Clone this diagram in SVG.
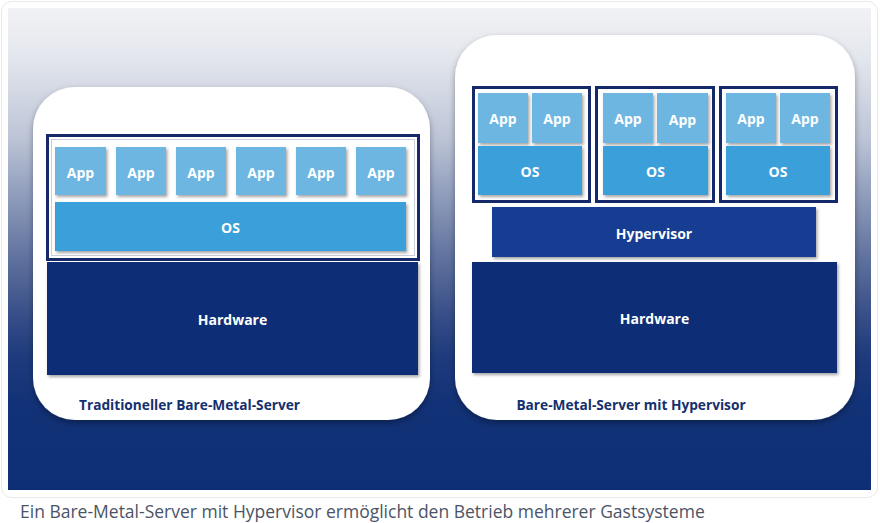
<svg xmlns="http://www.w3.org/2000/svg" width="880" height="523" viewBox="0 0 880 523">
<defs>
<linearGradient id="bg" x1="0" y1="0" x2="0" y2="1">
<stop offset="0" stop-color="#f1f2f5"/>
<stop offset="0.1" stop-color="#e4e7ee"/>
<stop offset="0.27" stop-color="#bcc4d6"/>
<stop offset="0.4" stop-color="#8b99b9"/>
<stop offset="0.52" stop-color="#5f719e"/>
<stop offset="0.63" stop-color="#3a5089"/>
<stop offset="0.72" stop-color="#1e3b7d"/>
<stop offset="0.82" stop-color="#123277"/>
<stop offset="1" stop-color="#0e2f75"/>
</linearGradient>
<filter id="sh" x="-10%" y="-10%" width="120%" height="130%">
<feDropShadow dx="1.5" dy="2" stdDeviation="1.5" flood-color="#000" flood-opacity="0.35"/>
</filter>
<filter id="psh" x="-10%" y="-10%" width="120%" height="120%">
<feDropShadow dx="0" dy="3" stdDeviation="3" flood-color="#001" flood-opacity="0.35"/>
</filter>
</defs>
<style>
.app{fill:#6db6e1;filter:url(#sh)}
.os{fill:#3a9fda;filter:url(#sh)}
.hw{fill:#0f2f76;filter:url(#sh)}
.hv{fill:#173d91;filter:url(#sh)}
.frame{fill:#ffffff;stroke:#14286a;stroke-width:3}
.inner{fill:none;stroke:#c9ced8;stroke-width:1}
.panel{fill:#ffffff;filter:url(#psh)}
.t{font-family:"Open Sans","Liberation Sans",sans-serif;font-weight:700;fill:#ffffff;text-anchor:middle;dominant-baseline:central}
.ta{font-size:14px}
.tl{font-size:14px}
.cap{font-family:"Open Sans","Liberation Sans",sans-serif;font-weight:700;font-size:13.7px;fill:#14306e}
</style>
<rect x="1.5" y="1.5" width="876" height="496" rx="10" fill="#ffffff" stroke="#e8e9ec"/>
<rect x="8" y="8" width="863" height="482" fill="url(#bg)"/>

<g id="left-server">
<rect class="panel" x="33" y="87" width="397" height="333" rx="42"/>
<rect class="frame" x="47.5" y="135.5" width="371" height="124"/>
<rect class="inner" x="51.5" y="139.5" width="363" height="116"/>
<g id="l-app1"><rect class="app" x="55" y="147" width="51" height="48"/><text class="t ta" x="80.5" y="172">App</text></g>
<g id="l-app2"><rect class="app" x="116" y="147" width="50" height="48"/><text class="t ta" x="141" y="172">App</text></g>
<g id="l-app3"><rect class="app" x="176" y="147" width="50" height="48"/><text class="t ta" x="201" y="172">App</text></g>
<g id="l-app4"><rect class="app" x="236" y="147" width="50" height="48"/><text class="t ta" x="261" y="172">App</text></g>
<g id="l-app5"><rect class="app" x="296" y="147" width="50" height="48"/><text class="t ta" x="321" y="172">App</text></g>
<g id="l-app6"><rect class="app" x="356" y="147" width="50" height="48"/><text class="t ta" x="381" y="172">App</text></g>
<g id="l-os"><rect class="os" x="55" y="202" width="351" height="49"/><text class="t tl" x="230.5" y="227">OS</text></g>
<g id="l-hw"><rect class="hw" x="47" y="262" width="371" height="113"/><text class="t tl" x="232.5" y="319">Hardware</text></g>
<text class="cap" x="79" y="410">Traditioneller Bare-Metal-Server</text>
</g>

<g id="right-server">
<rect class="panel" x="455" y="35" width="400" height="385" rx="42"/>
<g id="vm1">
<rect class="frame" x="473.5" y="87.5" width="116" height="114"/>
<g id="r-app1"><rect class="app" x="478" y="93" width="50" height="50"/><text class="t ta" x="503" y="118">App</text></g>
<g id="r-app2"><rect class="app" x="532" y="93" width="50" height="50"/><text class="t ta" x="557" y="118">App</text></g>
<g id="r-os1"><rect class="os" x="478" y="146" width="104" height="49"/><text class="t tl" x="530" y="171">OS</text></g>
</g>
<g id="vm2">
<rect class="frame" x="596.5" y="87.5" width="117" height="114"/>
<g id="r-app3"><rect class="app" x="603" y="93" width="50" height="50"/><text class="t ta" x="628" y="118">App</text></g>
<g id="r-app4"><rect class="app" x="657" y="93" width="51" height="50"/><text class="t ta" x="682.5" y="119">App</text></g>
<g id="r-os2"><rect class="os" x="603" y="146" width="105" height="49"/><text class="t tl" x="655.5" y="171">OS</text></g>
</g>
<g id="vm3">
<rect class="frame" x="720.5" y="87.5" width="116" height="114"/>
<g id="r-app5"><rect class="app" x="726" y="93" width="50" height="50"/><text class="t ta" x="751" y="118">App</text></g>
<g id="r-app6"><rect class="app" x="780" y="93" width="50" height="50"/><text class="t ta" x="805" y="118">App</text></g>
<g id="r-os3"><rect class="os" x="726" y="146" width="104" height="49"/><text class="t tl" x="778" y="171">OS</text></g>
</g>
<g id="r-hv"><rect class="hv" x="492" y="207" width="324" height="50"/><text class="t tl" x="654" y="233">Hypervisor</text></g>
<g id="r-hw"><rect class="hw" x="472" y="262" width="365" height="111"/><text class="t tl" x="654.5" y="318">Hardware</text></g>
<text class="cap" x="631" y="410" text-anchor="middle">Bare-Metal-Server mit Hypervisor</text>
</g>

<g id="connectors"></g>

<text x="20" y="518" font-family="'Open Sans','Liberation Sans',sans-serif" font-size="17.5" fill="#4b5466">Ein Bare-Metal-Server mit Hypervisor ermöglicht den Betrieb mehrerer Gastsysteme</text>
</svg>
